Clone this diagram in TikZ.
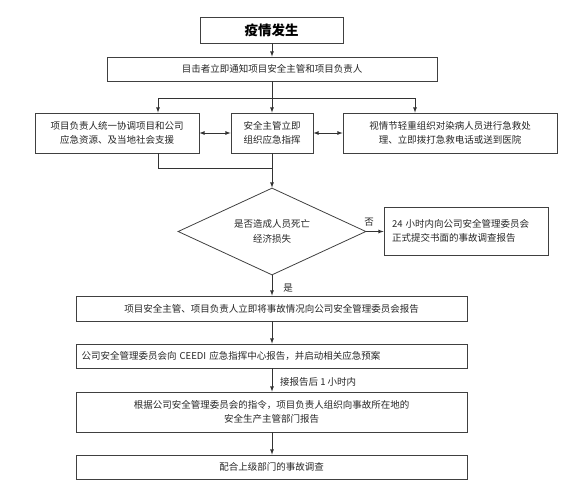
\documentclass[tikz,border=0pt]{standalone}
\usepackage{fontspec}
\setmainfont{Noto Sans CJK SC}
\usepackage{tikz}
\usetikzlibrary{arrows}
\usetikzlibrary{arrows.meta}
\usetikzlibrary{shapes.geometric}
\tikzset{>=latex}
\tikzstyle{box} = [draw=black!75, line width=0.8pt, inner sep=0, align=center, text=black!85, font=\fontsize{9.5}{14.5}\selectfont]
\tikzstyle{lbl} = [draw=none, inner sep=0, text=black!85, font=\fontsize{9.5}{12}\selectfont]
\tikzstyle{con} = [draw=black!80, line width=0.8pt]

\begin{document}
\begin{tikzpicture}[x=1pt, y=-1pt]
\useasboundingbox (0,0) rectangle (570,485);
\node [box, minimum width=143, minimum height=26, text=black, font=\fontsize{13.5}{16}\selectfont\bfseries] (start) at (271.5, 30) {疫情发生};
\node [box, minimum width=330, minimum height=24] (notify) at (272, 69) {目击者立即通知项目安全主管和项目负责人};
\node [box, minimum width=164, minimum height=40] (lead) at (117, 133) {项目负责人统一协调项目和公司\\应急资源、及当地社会支援};
\node [box, minimum width=82, minimum height=40] (safety) at (272, 133) {安全主管立即\\组织应急指挥};
\node [box, minimum width=214, minimum height=40] (rescue) at (450, 133) {视情节轻重组织对染病人员进行急救处\\理、立即拨打急救电话或送到医院};
\node [box, shape=diamond, aspect=2.16, minimum width=188, minimum height=87] (death) at (272, 231.5) {是否造成人员死亡\\经济损失};
\node [box, minimum width=164, minimum height=48, text width=148, align=left] (written) at (466, 231) {24 小时内向公司安全管理委员会\\正式提交书面的事故调查报告};
\node [box, minimum width=391, minimum height=25] (report) at (271.5, 308.5) {项目安全主管、项目负责人立即将事故情况向公司安全管理委员会报告};
\node [box, minimum width=391, minimum height=24, text width=380, align=left] (ceedi) at (271.5, 356) {公司安全管理委员会向 CEEDI 应急指挥中心报告，并启动相关应急预案};
\node [box, minimum width=391, minimum height=40] (local) at (271.5, 412) {根据公司安全管理委员会的指令，项目负责人组织向事故所在地的\\安全生产主管部门报告};
\node [box, minimum width=391, minimum height=24] (assist) at (271.5, 467) {配合上级部门的事故调查};
\node [lbl] (no) at (369, 222) {否};
\node [lbl] (yes) at (288, 288) {是};
\node [lbl, anchor=west] (onehour) at (280, 382) {接报告后 1 小时内};
\coordinate (forkL) at (158, 98);
\coordinate (forkR) at (415, 98);
\coordinate (join) at (272, 168);
\draw [con, -latex] (start.south -| join) to (join |- notify.north);
\draw [con, -latex] (notify.south -| join) to (join |- safety.north);
\draw [con] (forkL) to (forkR);
\draw [con, -latex] (forkL) to (forkL |- lead.north);
\draw [con, -latex] (forkR) to (forkR |- rescue.north);
\draw [con, latex-latex] (lead) to (safety);
\draw [con, latex-latex] (safety) to (rescue);
\draw [con] (forkL |- lead.south) to (forkL |- join) to (join);
\draw [con, -latex] (safety.south) to (death.north);
\draw [con, -latex] (death.east) to (death.east -| written.west);
\draw [con, -latex] (death.south) to (death.south |- report.north);
\draw [con, -latex] (report.south -| join) to (join |- ceedi.north);
\draw [con, -latex] (ceedi.south -| join) to (join |- local.north);
\draw [con, -latex] (local.south -| join) to (join |- assist.north);
\end{tikzpicture}
\end{document}
